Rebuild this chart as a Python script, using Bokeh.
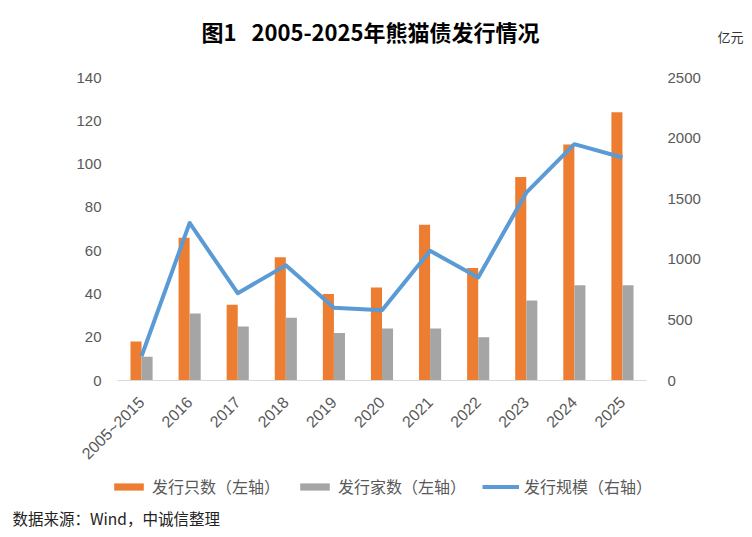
import math
from bokeh.plotting import figure
from bokeh.models import (Range1d, LinearAxis, FixedTicker, Legend, LegendItem,
                          Label, ColumnDataSource)
from bokeh.embed import file_html
from bokeh.resources import INLINE

categories = ["2005~2015", "2016", "2017", "2018", "2019", "2020",
              "2021", "2022", "2023", "2024", "2025"]
bond_count = [18, 66, 35, 57, 40, 43, 72, 52, 94, 109, 124]      # 发行只数（左轴）
issuer_count = [11, 31, 25, 29, 22, 24, 24, 20, 37, 44, 44]      # 发行家数（左轴）
issue_scale = [200, 1300, 720, 950, 600, 580, 1070, 850, 1550, 1950, 1840]  # 发行规模（右轴，亿元）
left_ticks = [0, 20, 40, 60, 80, 100, 120, 140]
right_ticks = [0, 500, 1000, 1500, 2000, 2500]
series_names = ["发行只数（左轴）", "发行家数（左轴）", "发行规模（右轴）"]
title_text = "图1\u00a0\u00a0\u00a02005-2025年熊猫债发行情况"
unit_text = "亿元"
source_text = "数据来源：Wind，中诚信整理"

ORANGE = "#ED7D31"
GRAY = "#A5A5A5"
BLUE = "#5B9BD5"
TXT = "#595959"
CJK = "Noto Sans CJK SC"
NUM = "Liberation Sans"

W = 744
H_TOP, H_MAIN, H_BOT = 50, 421, 58

xs = list(range(len(categories)))
bw = 0.23
src = ColumnDataSource(dict(
    x=xs,
    xo=[x - bw / 2 for x in xs],
    xg=[x + bw / 2 for x in xs],
    bonds=bond_count,
    issuers=issuer_count,
    scale=issue_scale,
))


def blank(h):
    f = figure(width=W, height=h, output_backend="svg", toolbar_location=None,
               x_range=Range1d(0, W), y_range=Range1d(0, h),
               x_axis_location=None, y_axis_location=None,
               min_border=0, min_border_left=0, min_border_right=0,
               min_border_top=0, min_border_bottom=0)
    f.grid.visible = False
    f.outline_line_color = None
    f.background_fill_color = "white"
    f.border_fill_color = "white"
    return f


# ---- top strip: title and unit
top = blank(H_TOP)
top.add_layout(Label(x=370, y=H_TOP - 30, text=title_text, text_align="center",
                     text_baseline="middle", text_font=CJK, text_font_size="22px",
                     text_font_style="bold", text_color="#000000"))
top.add_layout(Label(x=W - 1, y=H_TOP - 36, text=unit_text, text_align="right",
                     text_baseline="middle", text_font=CJK,
                     text_font_size="13px", text_color="#333333"))

# ---- main chart
p = figure(width=W, height=H_MAIN, output_backend="svg", toolbar_location=None,
           x_range=Range1d(-0.5, len(categories) - 0.5),
           y_range=Range1d(left_ticks[0], left_ticks[-1]),
           min_border_left=117, min_border_right=98,
           min_border_top=27, min_border_bottom=90)
p.extra_y_ranges = {"right": Range1d(right_ticks[0], right_ticks[-1])}
p.grid.visible = False
p.outline_line_color = None
p.background_fill_color = "white"
p.border_fill_color = "white"

ya = p.yaxis[0]
ya.ticker = FixedTicker(ticks=left_ticks)
ya.axis_line_color = None
ya.major_tick_line_color = None
ya.minor_tick_line_color = None
ya.major_label_text_font = NUM
ya.major_label_text_font_size = "15px"
ya.major_label_text_color = TXT
ya.major_label_standoff = 10

ra = LinearAxis(y_range_name="right", ticker=FixedTicker(ticks=right_ticks))
ra.axis_line_color = None
ra.major_tick_line_color = None
ra.minor_tick_line_color = None
ra.major_label_text_font = NUM
ra.major_label_text_font_size = "15px"
ra.major_label_text_color = TXT
ra.major_label_standoff = 15
p.add_layout(ra, "right")

xa = p.xaxis[0]
xa.ticker = FixedTicker(ticks=xs)
xa.major_label_overrides = {i: c for i, c in zip(xs, categories)}
xa.major_label_orientation = math.pi / 4
xa.axis_line_color = "#D9D9D9"
xa.axis_line_width = 1
xa.major_tick_line_color = None
xa.minor_tick_line_color = None
xa.major_label_text_font = NUM
xa.major_label_text_font_size = "16px"
xa.major_label_text_color = TXT
xa.major_label_standoff = 13

p.vbar(x="xo", top="bonds", bottom=0, width=bw, source=src,
       fill_color=ORANGE, line_color=None)
p.vbar(x="xg", top="issuers", bottom=0, width=bw, source=src,
       fill_color=GRAY, line_color=None)
p.line(x="x", y="scale", source=src, y_range_name="right",
       line_color=BLUE, line_width=4, line_join="round")

# ---- bottom strip: legend and source note (legend keys reuse the series
# source but are hidden, so only their legend swatches are drawn)
bot = blank(H_BOT)
k_o = bot.vbar(x="xo", top="bonds", width=bw, source=src,
               fill_color=ORANGE, line_color=None, visible=False)
k_g = bot.vbar(x="xg", top="issuers", width=bw, source=src,
               fill_color=GRAY, line_color=None, visible=False)
k_l = bot.line(x="x", y="scale", source=src, line_color=BLUE, line_width=4,
               visible=False)
legend = Legend(items=[LegendItem(label=n, renderers=[r])
                       for n, r in zip(series_names, [k_o, k_g, k_l])],
                orientation="horizontal", location=(110, H_BOT - 27))
legend.label_text_font = CJK
legend.label_text_font_size = "16px"
legend.label_text_color = TXT
legend.glyph_width = 37
legend.glyph_height = 9
legend.label_standoff = 5
legend.spacing = 16
legend.padding = 0
legend.margin = 0
legend.border_line_color = None
legend.background_fill_alpha = 0
legend.inactive_fill_alpha = 0
legend.click_policy = "none"
bot.add_layout(legend, "center")
bot.add_layout(Label(x=12, y=H_BOT - 46, text=source_text, text_align="left",
                     text_baseline="middle", text_font=CJK,
                     text_font_size="15.5px", text_color="#222222"))

open("out.html", "w").write(file_html([top, p, bot], INLINE))
